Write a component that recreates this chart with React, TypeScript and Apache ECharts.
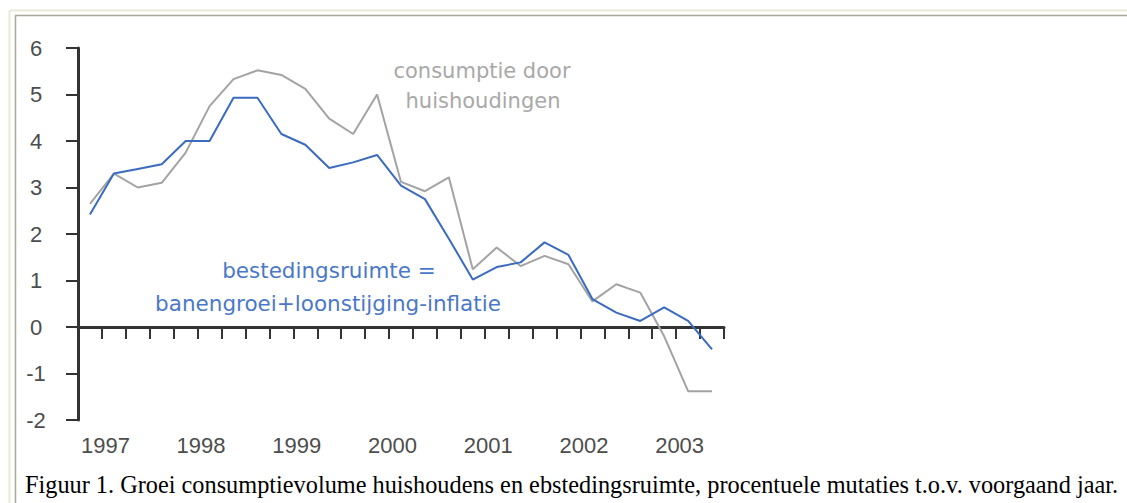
import React, { useEffect, useRef } from 'react';
import * as echarts from 'echarts';

const quarters = [
  '1996 K4',
  '1997 K1', '1997 K2', '1997 K3', '1997 K4',
  '1998 K1', '1998 K2', '1998 K3', '1998 K4',
  '1999 K1', '1999 K2', '1999 K3', '1999 K4',
  '2000 K1', '2000 K2', '2000 K3', '2000 K4',
  '2001 K1', '2001 K2', '2001 K3', '2001 K4',
  '2002 K1', '2002 K2', '2002 K3', '2002 K4',
  '2003 K1', '2003 K2',
];

const consumptie = [
  2.65, 3.3, 3.0, 3.1, 3.75, 4.75, 5.33, 5.52, 5.42, 5.12, 4.48, 4.15, 5.0,
  3.12, 2.92, 3.22, 1.24, 1.71, 1.31, 1.53, 1.35, 0.55, 0.92, 0.74, -0.2, -1.38, -1.38,
];

const bestedingsruimte = [
  2.42, 3.3, 3.4, 3.5, 4.0, 4.0, 4.93, 4.93, 4.15, 3.92, 3.42, 3.54, 3.7,
  3.04, 2.75, 1.9, 1.02, 1.29, 1.39, 1.82, 1.55, 0.6, 0.31, 0.13, 0.42, 0.13, -0.48,
];

const yMin = -2;
const yMax = 6;
const yStep = 1;

const labelConsumptie = ['consumptie door', 'huishoudingen'];
const labelBesteding = ['bestedingsruimte =', 'banengroei+loonstijging-inflatie'];
const caption =
  'Figuur 1. Groei consumptievolume huishoudens en ebstedingsruimte, procentuele mutaties t.o.v. voorgaand jaar.';

export default function App() {
  const ref = useRef<HTMLDivElement>(null);

  useEffect(() => {
    if (!ref.current) return;
    const chart = echarts.init(ref.current, null, { renderer: 'svg' });
    const axisColor = '#333333';
    const grayText = '#a8a8a8';
    const blueText = '#4a78c8';
    const annFont = 'DejaVu Sans';

    chart.setOption({
      animation: false,
      backgroundColor: '#ffffff',
      grid: { left: 78, right: 403, top: 48, bottom: 83, containLabel: false },
      xAxis: [
        {
          type: 'category',
          data: quarters,
          boundaryGap: true,
          axisLine: { onZero: true, lineStyle: { color: axisColor, width: 3 } },
          axisTick: { show: true, interval: 0, length: 12, inside: false, lineStyle: { color: axisColor, width: 2 } },
          axisLabel: { show: false, interval: 0 },
          splitLine: { show: false },
        },
        {
          type: 'category',
          data: quarters,
          boundaryGap: true,
          position: 'bottom',
          axisLine: { show: false, onZero: false },
          axisTick: { show: false },
          splitLine: { show: false },
          axisLabel: {
            show: true,
            interval: (_i: number, v: string) => v.endsWith('K1'),
            formatter: (v: string) => v.slice(0, 4),
            fontFamily: 'Liberation Sans',
            fontSize: 22,
            color: '#4d4d4d',
            margin: 14,
            padding: [0, 17, 0, 0],
          },
        },
      ],
      yAxis: {
        type: 'value',
        min: yMin,
        max: yMax,
        interval: yStep,
        axisLine: { show: true, lineStyle: { color: axisColor, width: 3 } },
        axisTick: { show: true, length: 12, lineStyle: { color: axisColor, width: 2 } },
        splitLine: { show: false },
        axisLabel: {
          fontFamily: 'Liberation Sans',
          fontSize: 22,
          color: '#4d4d4d',
          align: 'center',
          margin: 42,
          padding: [0, 0, 12, 0],
        },
      },
      series: [
        {
          name: 'consumptie door huishoudingen',
          type: 'line',
          data: consumptie,
          xAxisIndex: 0,
          symbol: 'none',
          lineStyle: { color: '#a3a3a3', width: 2 },
          z: 2,
        },
        {
          name: 'bestedingsruimte',
          type: 'line',
          data: bestedingsruimte,
          xAxisIndex: 0,
          symbol: 'none',
          lineStyle: { color: '#3a6bbf', width: 2 },
          z: 3,
        },
      ],
      graphic: [
        { type: 'line', shape: { x1: 9.5, y1: 10.5, x2: 1127, y2: 10.5 }, style: { stroke: '#ece9d8', lineWidth: 2 }, silent: true },
        { type: 'line', shape: { x1: 9.5, y1: 10.5, x2: 9.5, y2: 503 }, style: { stroke: '#ece9d8', lineWidth: 2 }, silent: true },
        { type: 'line', shape: { x1: 15, y1: 15.5, x2: 1127, y2: 15.5 }, style: { stroke: '#aca899', lineWidth: 1.5 }, silent: true },
        { type: 'line', shape: { x1: 15.5, y1: 15, x2: 15.5, y2: 503 }, style: { stroke: '#aca899', lineWidth: 1.5 }, silent: true },
        {
          type: 'text', x: 482, y: 71,
          style: { text: labelConsumptie[0], fill: grayText, font: `21px "${annFont}"`, align: 'center', verticalAlign: 'middle' },
        },
        {
          type: 'text', x: 483, y: 101,
          style: { text: labelConsumptie[1], fill: grayText, font: `21px "${annFont}"`, align: 'center', verticalAlign: 'middle' },
        },
        {
          type: 'text', x: 329, y: 270,
          style: { text: labelBesteding[0], fill: blueText, font: `21.5px "${annFont}"`, align: 'center', verticalAlign: 'middle' },
        },
        {
          type: 'text', x: 328, y: 303,
          style: { text: labelBesteding[1], fill: blueText, font: `21.5px "${annFont}"`, align: 'center', verticalAlign: 'middle' },
        },
        {
          type: 'text', x: 25, y: 484,
          style: { text: caption, fill: '#000000', font: '24.3px "Liberation Serif"', align: 'left', verticalAlign: 'middle' },
        },
      ],
    });

    return () => chart.dispose();
  }, []);

  return (
    <div
      ref={ref}
      style={{ position: 'absolute', left: 0, top: 0, width: 1127, height: 503, background: '#ffffff' }}
    />
  );
}
